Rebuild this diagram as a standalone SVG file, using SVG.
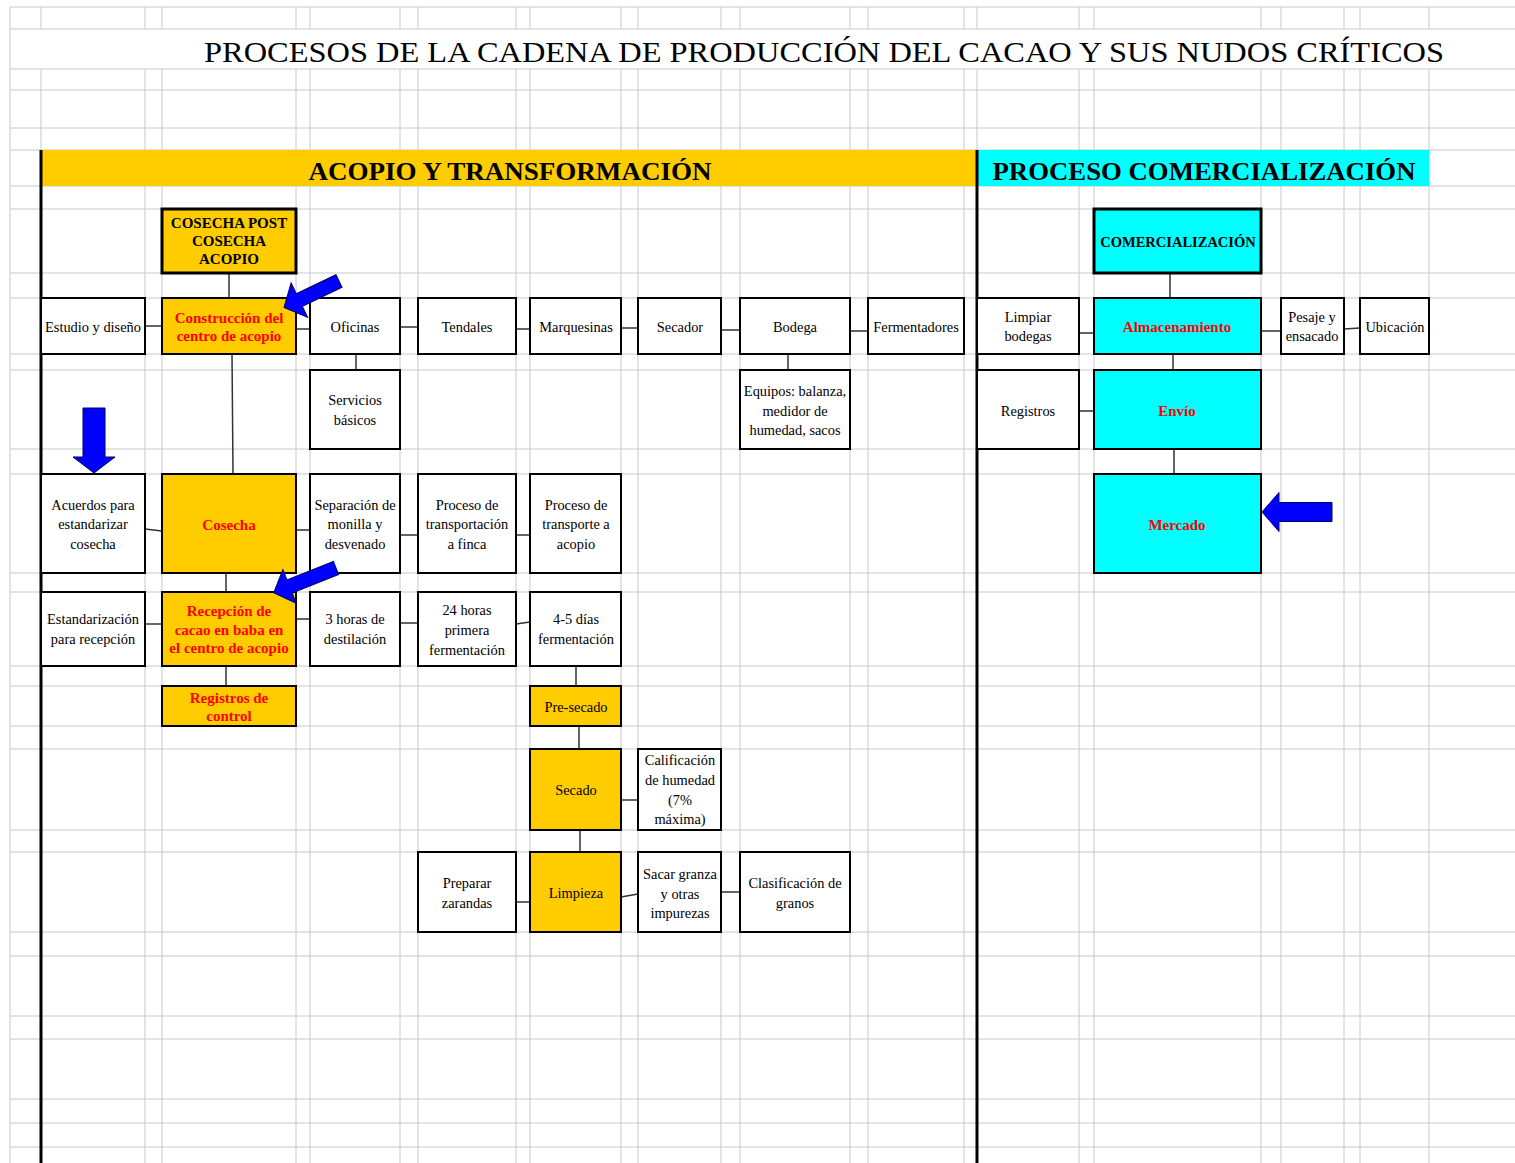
<svg xmlns="http://www.w3.org/2000/svg" width="1515" height="1163" viewBox="0 0 1515 1163">
<style>
.g{stroke:#c8c8c8;stroke-width:1;fill:none}
.n{stroke:#000;stroke-width:2}
.h{stroke:#000;stroke-width:3}
.w{fill:#fff}
.y{fill:#ffcc00}
.c{fill:#00ffff}
.c2{stroke:#333;stroke-width:1.5;fill:none}
text{font-family:"Liberation Serif","Times New Roman",serif;font-size:14.4px;text-anchor:middle;fill:#000}
.r{fill:#ff0000;font-weight:bold;font-size:15px}
.b{font-weight:bold}
.ar{fill:#0000ff;stroke:#000060;stroke-width:1}
</style>
<rect x="0" y="0" width="1515" height="1163" fill="#fff"/>
<g id="grid">
<path class="g" d="M10 7H1515M10 29H1515M10 69H1515M10 90H1515M10 128H1515M10 150H1515M10 186H1515M10 209H1515M10 273H1515M10 298H1515M10 354H1515M10 370H1515M10 449H1515M10 474H1515M10 573H1515M10 592H1515M10 666H1515M10 686H1515M10 726H1515M10 749H1515M10 830H1515M10 852H1515M10 932H1515M10 956H1515M10 1016H1515M10 1039H1515M10 1099H1515M10 1123H1515M10 1147H1515"/>
<path class="g" d="M10 7V1163"/>
<path class="g" d="M41 7V29M145 7V29M162 7V29M296 7V29M310 7V29M400 7V29M418 7V29M516 7V29M530 7V29M621 7V29M638 7V29M721 7V29M740 7V29M850 7V29M868 7V29M964 7V29M977 7V29M1079 7V29M1094 7V29M1261 7V29M1281 7V29M1344 7V29M1360 7V29M1429 7V29"/>
<path class="g" d="M41 69V1163M145 69V1163M162 69V1163M296 69V1163M310 69V1163M400 69V1163M418 69V1163M516 69V1163M530 69V1163M621 69V1163M638 69V1163M721 69V1163M740 69V1163M850 69V1163M868 69V1163M964 69V1163M977 69V1163M1079 69V1163M1094 69V1163M1261 69V1163M1281 69V1163M1344 69V1163M1360 69V1163M1429 69V1163"/>
</g>
<text x="824" y="62" style="font-size:30px" textLength="1240" lengthAdjust="spacingAndGlyphs">PROCESOS DE LA CADENA DE PRODUCCIÓN DEL CACAO Y SUS NUDOS CRÍTICOS</text>
<g id="banner-acopio">
<rect x="41" y="150" width="936" height="36" fill="#ffcc00"/>
<text x="510" y="180" class="b" style="font-size:26px" textLength="403" lengthAdjust="spacingAndGlyphs">ACOPIO Y TRANSFORMACIÓN</text>
</g>
<g id="banner-comercializacion">
<rect x="977" y="150" width="452" height="36" fill="#00ffff"/>
<text x="1204" y="180" class="b" style="font-size:26px" textLength="423" lengthAdjust="spacingAndGlyphs">PROCESO COMERCIALIZACIÓN</text>
</g>
<g id="dividers">
<path d="M41 150V1163M977 150V1163" stroke="#000" stroke-width="3"/>
</g>
<g id="connectors">
<path class="c2" d="M229 273V298M145 326H162M296 329H310M400 327H418M516 329H530M621 328H638M721 330H740M850 331H868M356 354V370M788 354V370M232 354L233 474M145 529L162 531M296 530H310M400 535H418M516 535H530M226 573V592M145 624H162M296 619H310M400 623H418M516 624L530 622M226 666V686M576 666V686M579 726V749M621 800H638M580 830V852M516 902H530M621 897L638 894M721 892H740"/>
<path class="c2" d="M1170 273V298M1079 333H1094M1261 331H1281M1344 329L1360 328M1173 354V370M1079 411H1094M1174 449V474"/>
</g>
<g id="n-cosecha-post"><rect class="h y" x="162" y="209" width="134" height="64"/><text class="b" x="229" y="228" style="font-size:15px">COSECHA POST</text><text class="b" x="229" y="246" style="font-size:15px">COSECHA</text><text class="b" x="229" y="264" style="font-size:15px">ACOPIO</text></g>
<g id="n-estudio"><rect class="n w" x="41" y="298" width="104" height="56"/><text x="93" y="332">Estudio y diseño</text></g>
<g id="n-construccion"><rect class="n y" x="162" y="298" width="134" height="56"/><text class="r" x="229" y="323">Construcción del</text><text class="r" x="229" y="341">centro de acopio</text></g>
<g id="n-oficinas"><rect class="n w" x="310" y="298" width="90" height="56"/><text x="355" y="332">Oficinas</text></g>
<g id="n-tendales"><rect class="n w" x="418" y="298" width="98" height="56"/><text x="467" y="332">Tendales</text></g>
<g id="n-marquesinas"><rect class="n w" x="530" y="298" width="91" height="56"/><text x="576" y="332">Marquesinas</text></g>
<g id="n-secador"><rect class="n w" x="638" y="298" width="83" height="56"/><text x="680" y="332">Secador</text></g>
<g id="n-bodega"><rect class="n w" x="740" y="298" width="110" height="56"/><text x="795" y="332">Bodega</text></g>
<g id="n-fermentadores"><rect class="n w" x="868" y="298" width="96" height="56"/><text x="916" y="332">Fermentadores</text></g>
<g id="n-servicios"><rect class="n w" x="310" y="370" width="90" height="79"/><text x="355" y="405">Servicios</text><text x="355" y="425">básicos</text></g>
<g id="n-equipos"><rect class="n w" x="740" y="370" width="110" height="79"/><text x="795" y="396">Equipos: balanza,</text><text x="795" y="416">medidor de</text><text x="795" y="435">humedad, sacos</text></g>
<g id="n-acuerdos"><rect class="n w" x="41" y="474" width="104" height="99"/><text x="93" y="510">Acuerdos para</text><text x="93" y="529">estandarizar</text><text x="93" y="549">cosecha</text></g>
<g id="n-cosecha"><rect class="n y" x="162" y="474" width="134" height="99"/><text class="r" x="229" y="530">Cosecha</text></g>
<g id="n-separacion"><rect class="n w" x="310" y="474" width="90" height="99"/><text x="355" y="510">Separación de</text><text x="355" y="529">monilla y</text><text x="355" y="549">desvenado</text></g>
<g id="n-transp-finca"><rect class="n w" x="418" y="474" width="98" height="99"/><text x="467" y="510">Proceso de</text><text x="467" y="529">transportación</text><text x="467" y="549">a finca</text></g>
<g id="n-transp-acopio"><rect class="n w" x="530" y="474" width="91" height="99"/><text x="576" y="510">Proceso de</text><text x="576" y="529">transporte a</text><text x="576" y="549">acopio</text></g>
<g id="n-estandarizacion"><rect class="n w" x="41" y="592" width="104" height="74"/><text x="93" y="624">Estandarización</text><text x="93" y="644">para recepción</text></g>
<g id="n-recepcion"><rect class="n y" x="162" y="592" width="134" height="74"/><text class="r" x="229" y="616">Recepción de</text><text class="r" x="229" y="635">cacao en baba en</text><text class="r" x="229" y="653">el centro de acopio</text></g>
<g id="n-3horas"><rect class="n w" x="310" y="592" width="90" height="74"/><text x="355" y="624">3 horas de</text><text x="355" y="644">destilación</text></g>
<g id="n-24horas"><rect class="n w" x="418" y="592" width="98" height="74"/><text x="467" y="615">24 horas</text><text x="467" y="635">primera</text><text x="467" y="655">fermentación</text></g>
<g id="n-45dias"><rect class="n w" x="530" y="592" width="91" height="74"/><text x="576" y="624">4-5 días</text><text x="576" y="644">fermentación</text></g>
<g id="n-registros-control"><rect class="n y" x="162" y="686" width="134" height="40"/><text class="r" x="229" y="703">Registros de</text><text class="r" x="229" y="721">control</text></g>
<g id="n-presecado"><rect class="n y" x="530" y="686" width="91" height="40"/><text x="576" y="712">Pre-secado</text></g>
<g id="n-secado"><rect class="n y" x="530" y="749" width="91" height="81"/><text x="576" y="795">Secado</text></g>
<g id="n-calificacion"><rect class="n w" x="638" y="749" width="83" height="81"/><text x="680" y="765">Calificación</text><text x="680" y="785">de humedad</text><text x="680" y="805">(7%</text><text x="680" y="824">máxima)</text></g>
<g id="n-zarandas"><rect class="n w" x="418" y="852" width="98" height="80"/><text x="467" y="888">Preparar</text><text x="467" y="908">zarandas</text></g>
<g id="n-limpieza"><rect class="n y" x="530" y="852" width="91" height="80"/><text x="576" y="898">Limpieza</text></g>
<g id="n-granza"><rect class="n w" x="638" y="852" width="83" height="80"/><text x="680" y="879">Sacar granza</text><text x="680" y="899">y otras</text><text x="680" y="918">impurezas</text></g>
<g id="n-clasificacion"><rect class="n w" x="740" y="852" width="110" height="80"/><text x="795" y="888">Clasificación de</text><text x="795" y="908">granos</text></g>
<g id="n-comercializacion"><rect class="h c" x="1094" y="209" width="167" height="64"/><text class="b" x="1178" y="247" style="font-size:14.5px">COMERCIALIZACIÓN</text></g>
<g id="n-limpiar"><rect class="n w" x="977" y="298" width="102" height="56"/><text x="1028" y="322">Limpiar</text><text x="1028" y="341">bodegas</text></g>
<g id="n-almacenamiento"><rect class="n c" x="1094" y="298" width="167" height="56"/><text class="r" x="1177" y="332">Almacenamiento</text></g>
<g id="n-pesaje"><rect class="n w" x="1281" y="298" width="63" height="56"/><text x="1312" y="322">Pesaje y</text><text x="1312" y="341">ensacado</text></g>
<g id="n-ubicacion"><rect class="n w" x="1360" y="298" width="69" height="56"/><text x="1395" y="332">Ubicación</text></g>
<g id="n-registros"><rect class="n w" x="977" y="370" width="102" height="79"/><text x="1028" y="416">Registros</text></g>
<g id="n-envio"><rect class="n c" x="1094" y="370" width="167" height="79"/><text class="r" x="1177" y="416">Envío</text></g>
<g id="n-mercado"><rect class="n c" x="1094" y="474" width="167" height="99"/><text class="r" x="1177" y="530">Mercado</text></g>
<g id="arrows">
<polygon class="ar" transform="translate(339 281) rotate(154.3)" points="0,-7 44,-7 44,-19 61,0 44,19 44,7 0,7"/>
<polygon class="ar" transform="translate(94 408) rotate(90)" points="0,-11 49,-11 49,-21 65,0 49,21 49,11 0,11"/>
<polygon class="ar" transform="translate(336 568) rotate(158.4)" points="0,-7 50,-7 50,-18 67,0 50,18 50,7 0,7"/>
<polygon class="ar" transform="translate(1332 512) rotate(180)" points="0,-9.5 53,-9.5 53,-19.5 70,0 53,19.5 53,9.5 0,9.5"/>
</g>
</svg>
